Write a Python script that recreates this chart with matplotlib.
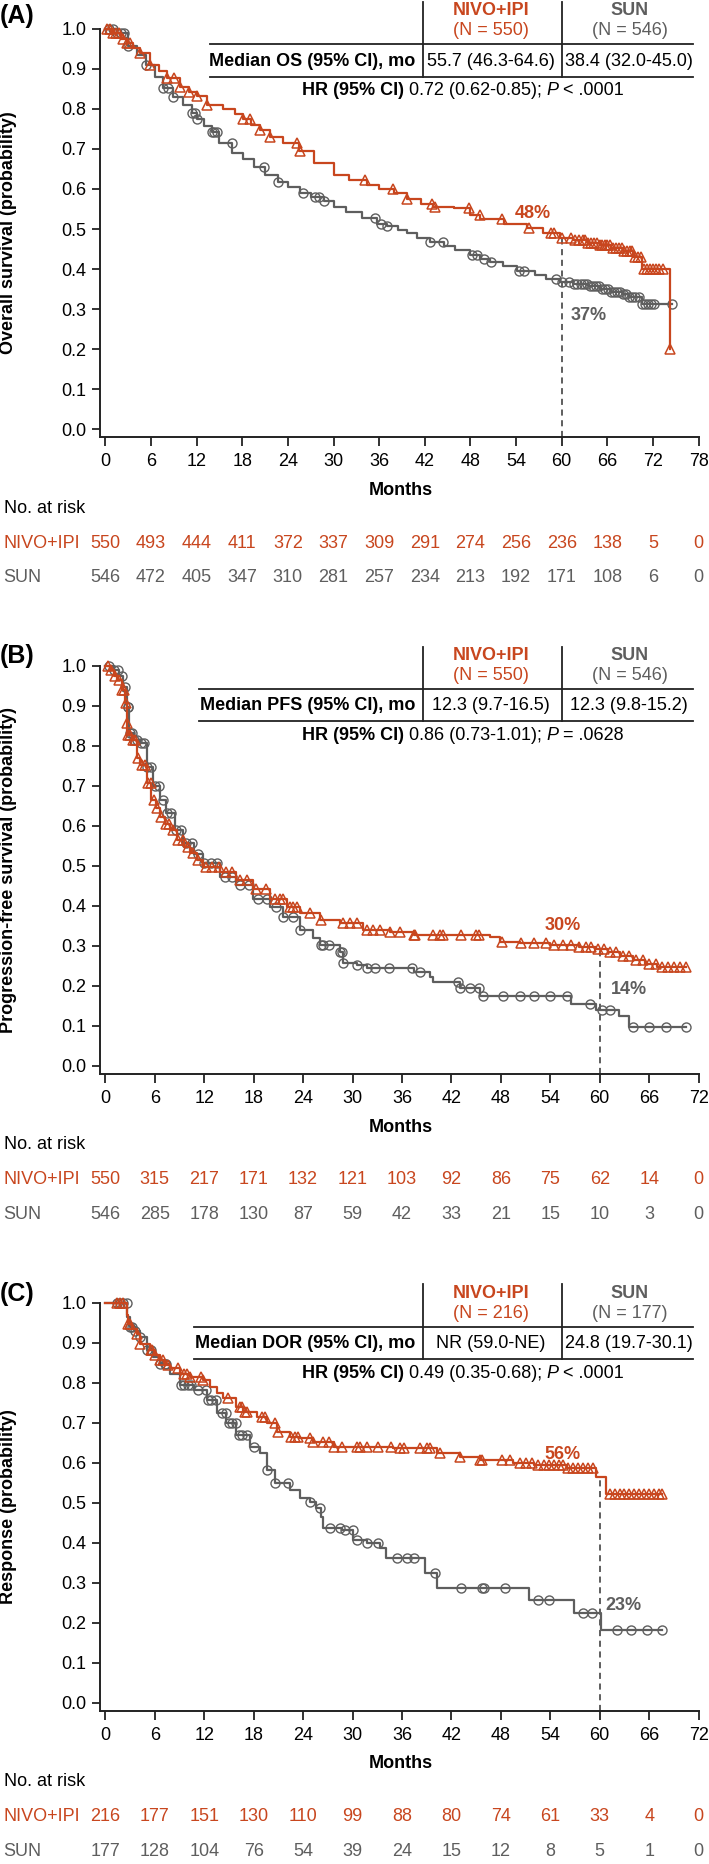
import numpy as np
import matplotlib
matplotlib.use('Agg')
import matplotlib.pyplot as plt
from matplotlib.lines import Line2D
from matplotlib.transforms import blended_transform_factory

plt.rcParams['font.family'] = ['Liberation Sans', 'DejaVu Sans']

RED = '#C8461E'
GRAY = '#5E5E5E'
W, H = 709, 1864

# ---- panel A: overall survival ----
os_nivo_t = [0, 1.0, 2.0, 2.8, 3.7, 4.6, 5.9, 7.0, 8.1, 9.8, 11.0, 12.0, 13.3, 15.5, 17.0, 18.1,
             19.2, 20.3, 21.7, 23.4, 25.4, 27.4, 30.0, 32.0, 34.4, 36.0, 37.9, 39.6, 41.5, 43.1,
             45.8, 48.0, 49.3, 52.4, 55.4, 57.5, 59.8, 61.5, 63.5, 65.0, 66.5, 68.0, 69.4, 70.6, 74.2]
os_nivo_s = [1.0, 0.989, 0.975, 0.964, 0.952, 0.939, 0.91, 0.895, 0.877, 0.856, 0.843, 0.833, 0.81,
             0.80, 0.787, 0.774, 0.761, 0.748, 0.731, 0.714, 0.695, 0.664, 0.635, 0.622, 0.61, 0.600,
             0.589, 0.574, 0.563, 0.556, 0.552, 0.535, 0.525, 0.5125, 0.502, 0.49, 0.477, 0.472,
             0.465, 0.46, 0.452, 0.445, 0.431, 0.40, 0.20]
os_sun_t = [0, 1.5, 3.0, 4.2, 5.4, 6.5, 7.6, 8.9, 10.2, 11.4, 12.0, 13.0, 14.0, 14.9, 16.7, 18.1,
            19.5, 21.0, 22.7, 24.0, 25.6, 27.0, 28.7, 30.0, 31.7, 33.7, 35.7, 37.0, 38.5, 39.6, 41.0,
            42.7, 44.5, 46.0, 48.0, 49.3, 50.6, 52.3, 54.1, 56.5, 58.0, 59.8, 61.5, 63.5, 65.0, 66.5,
            68.0, 68.8, 70.6, 74.5]
os_sun_s = [1.0, 0.989, 0.957, 0.935, 0.91, 0.88, 0.852, 0.831, 0.81, 0.789, 0.774, 0.758, 0.743,
            0.714, 0.691, 0.674, 0.655, 0.635, 0.618, 0.604, 0.589, 0.58, 0.571, 0.556, 0.543, 0.527,
            0.5125, 0.5075, 0.497, 0.489, 0.478, 0.468, 0.458, 0.447, 0.435, 0.426, 0.418, 0.407,
            0.396, 0.385, 0.376, 0.368, 0.362, 0.3575, 0.35, 0.343, 0.337, 0.331, 0.3125, 0.3125]
os_nivo_cens = [0.2, 0.6, 1.0, 1.4, 1.8, 2.3, 2.8, 3.3, 4.6, 5.9, 8.1, 9.0, 9.8, 11.0, 12.0, 13.3,
                18.1, 19.0, 20.3, 21.7, 25.2, 25.6, 34.2, 37.8, 39.6, 43.0, 43.4, 47.8, 49.2, 52.2,
                55.7, 58.6, 59.0, 60.0, 61.2, 61.8, 62.3, 62.8, 63.1, 63.5, 63.9, 64.2, 64.6, 65.0,
                65.3, 65.7, 66.0, 66.4, 66.8, 67.1, 67.5, 67.9, 68.2, 68.6, 69.0, 69.3, 69.7, 70.0,
                70.4, 70.8, 71.2, 71.6, 72.0, 72.4, 72.8, 73.3, 74.2]
os_sun_cens = [0.5, 1.0, 1.5, 2.0, 2.5, 3.0, 5.4, 7.6, 8.2, 8.9, 11.4, 11.8, 12.0, 14.0, 14.3, 14.7,
               16.6, 20.9, 22.7, 26.0, 27.5, 28.1, 28.8, 35.5, 36.3, 37.0, 42.7, 44.4, 48.2, 48.9,
               49.8, 50.7, 54.4, 55.1, 59.3, 60.0, 61.0, 61.6, 62.0, 62.5, 62.9, 63.3, 63.7, 64.1,
               64.5, 64.9, 65.3, 65.7, 66.1, 66.5, 66.9, 67.3, 67.7, 68.1, 68.5, 68.9, 69.3, 69.7,
               70.1, 70.6, 71.0, 71.4, 71.8, 72.2, 74.5]
os_risk_nivo = [550, 493, 444, 411, 372, 337, 309, 291, 274, 256, 236, 138, 5, 0]
os_risk_sun = [546, 472, 405, 347, 310, 281, 257, 234, 213, 192, 171, 108, 6, 0]

# ---- panel B: progression-free survival ----
pfs_nivo_t = [0, 0.56, 1.0, 1.37, 1.98, 2.38, 2.58, 2.66, 3.19, 3.8, 4.2, 5.0, 5.6, 6.1, 6.6, 7.2,
              7.8, 8.65, 9.5, 10.3, 11.1, 11.9, 13.9, 15.9, 17.9, 20.0, 22.0, 23.6, 26.0, 28.5,
              31.3, 34.5, 37.4, 46.7, 47.9, 50.3, 54.0, 57.5, 59.5, 61.0, 62.5, 64.0, 65.5, 67.0, 70.5]
pfs_nivo_s = [1.0, 0.989, 0.975, 0.964, 0.939, 0.906, 0.856, 0.827, 0.814, 0.77, 0.752, 0.706,
              0.664, 0.645, 0.622, 0.605, 0.589, 0.564, 0.547, 0.531, 0.515, 0.498, 0.485, 0.464,
              0.443, 0.418, 0.397, 0.381, 0.364, 0.356, 0.339, 0.335, 0.327, 0.3225, 0.31, 0.3075,
              0.303, 0.298, 0.292, 0.285, 0.275, 0.265, 0.255, 0.248, 0.248]
pfs_sun_t = [0, 1.0, 1.6, 2.2, 2.66, 2.9, 3.5, 4.2, 5.0, 5.8, 6.6, 7.4, 8.4, 9.45, 10.7, 11.9, 13.9,
             15.9, 17.9, 20.0, 21.6, 23.6, 25.2, 26.0, 28.5, 28.9, 30.5, 31.7, 37.4, 39.4, 39.8,
             43.0, 45.5, 56.5, 59.5, 62.3, 63.5, 70.5]
pfs_sun_s = [1.0, 0.99, 0.975, 0.948, 0.898, 0.831, 0.815, 0.806, 0.748, 0.70, 0.664, 0.631, 0.59,
             0.556, 0.53, 0.506, 0.4725, 0.452, 0.418, 0.3975, 0.3725, 0.339, 0.3185, 0.302, 0.285,
             0.256, 0.252, 0.2435, 0.235, 0.2225, 0.21, 0.1935, 0.175, 0.155, 0.14, 0.125, 0.097, 0.097]
pfs_nivo_cens = [0.3, 0.7, 1.2, 1.6, 2.0, 2.3, 2.5, 2.6, 2.7, 3.0, 3.3, 3.6, 4.0, 4.4, 4.8, 5.2,
                 5.5, 5.9, 6.3, 6.8, 7.3, 7.7, 8.2, 8.8, 9.4, 10.0, 10.6, 11.3, 12.2, 13.0, 13.8,
                 14.6, 15.4, 16.3, 17.2, 18.3, 19.5, 20.6, 21.2, 21.6, 22.4, 22.8, 23.2, 24.8, 26.2,
                 28.9, 29.7, 30.5, 31.7, 32.5, 33.3, 34.5, 35.7, 37.4, 37.6, 39.8, 40.6, 41.0, 43.2,
                 45.0, 45.4, 48.1, 50.5, 52.0, 53.5, 54.5, 55.5, 56.5, 57.5, 58.3, 59.0, 59.8, 60.5,
                 61.2, 62.0, 62.8, 63.6, 64.4, 65.2, 66.0, 66.8, 67.5, 68.3, 69.0, 69.8, 70.5]
pfs_sun_cens = [0.5, 1.0, 1.5, 2.0, 2.4, 2.7, 2.8, 3.0, 3.2, 3.5, 3.9, 4.3, 4.7, 5.1, 5.5, 6.0,
                6.5, 7.0, 7.5, 8.0, 8.6, 9.2, 9.8, 10.5, 11.2, 12.0, 12.8, 13.6, 14.5, 15.4, 16.4,
                17.4, 18.5, 19.6, 20.7, 21.6, 22.8, 23.6, 26.2, 26.4, 27.2, 28.5, 28.7, 28.9, 30.5,
                31.7, 32.7, 34.4, 37.2, 38.2, 42.8, 43.0, 44.2, 45.4, 45.8, 48.3, 50.3, 52.0, 54.0,
                56.0, 58.8, 60.3, 61.3, 64.0, 66.0, 68.0, 70.5]
pfs_risk_nivo = [550, 315, 217, 171, 132, 121, 103, 92, 86, 75, 62, 14, 0]
pfs_risk_sun = [546, 285, 178, 130, 87, 59, 42, 33, 21, 15, 10, 3, 0]

# ---- panel C: duration of response ----
dor_nivo_t = [0, 2.6, 2.8, 3.2, 3.8, 4.2, 5.4, 6.0, 6.6, 7.2, 7.8, 9.05, 10.3, 11.9, 12.7, 13.5,
              14.3, 15.9, 16.7, 18.4, 19.6, 20.8, 22.4, 23.6, 25.2, 27.7, 34.9, 40.2, 43.0, 45.5,
              49.5, 52.0, 56.0, 59.5, 60.8, 67.6]
dor_nivo_s = [1.0, 0.969, 0.948, 0.935, 0.923, 0.898, 0.882, 0.87, 0.857, 0.845, 0.836, 0.823,
              0.815, 0.807, 0.79, 0.775, 0.761, 0.74, 0.7275, 0.715, 0.6985, 0.6775, 0.665, 0.661,
              0.6525, 0.64, 0.636, 0.6235, 0.615, 0.607, 0.5985, 0.594, 0.587, 0.565, 0.523, 0.523]
dor_sun_t = [0, 2.66, 3.0, 3.6, 4.2, 5.0, 5.8, 6.6, 7.8, 9.05, 10.7, 12.3, 13.5, 14.7, 15.9, 17.5,
             18.8, 19.6, 20.6, 22.4, 23.6, 24.8, 25.6, 26.2, 26.4, 28.7, 30.1, 31.7, 33.3, 34.1,
             38.8, 40.3, 51.4, 56.9, 60.2, 67.6]
dor_sun_s = [1.0, 0.965, 0.94, 0.93, 0.915, 0.882, 0.865, 0.848, 0.823, 0.794, 0.782, 0.757,
             0.7235, 0.6985, 0.669, 0.64, 0.6235, 0.582, 0.5485, 0.532, 0.512, 0.5025, 0.486,
             0.465, 0.436, 0.432, 0.407, 0.3985, 0.386, 0.361, 0.3235, 0.286, 0.2565, 0.225, 0.182, 0.182]
dor_nivo_cens = [1.4, 1.8, 2.2, 2.8, 3.0, 3.9, 4.2, 5.5, 5.7, 6.0, 6.6, 7.0, 7.6, 8.8, 9.6, 9.9,
                 10.3, 11.6, 11.9, 14.9, 16.3, 16.6, 16.9, 17.2, 19.0, 19.4, 20.6, 21.0, 22.5, 23.0,
                 23.4, 24.8, 25.2, 26.4, 27.1, 27.7, 28.7, 30.5, 30.9, 31.7, 33.1, 34.7, 35.8, 36.2,
                 38.2, 39.0, 39.4, 40.6, 43.0, 45.5, 45.7, 48.1, 49.1, 50.3, 51.0, 51.8, 52.5, 53.2,
                 53.8, 54.4, 55.0, 55.6, 56.2, 56.8, 57.4, 58.0, 58.6, 59.2, 61.2, 61.8, 62.4, 63.0,
                 63.6, 64.2, 64.8, 65.4, 66.0, 66.6, 67.2, 67.6]
dor_sun_cens = [1.4, 1.8, 2.2, 2.6, 3.0, 3.2, 3.6, 4.2, 5.0, 5.5, 6.6, 7.2, 7.4, 9.2, 9.6, 10.0,
                10.4, 11.2, 12.2, 12.5, 12.8, 13.4, 14.2, 14.6, 15.0, 15.4, 15.8, 16.2, 16.6, 17.2,
                18.0, 19.6, 20.6, 22.2, 24.8, 26.0, 27.3, 28.5, 29.1, 30.0, 30.5, 31.7, 33.1, 35.4,
                36.6, 37.4, 40.0, 43.2, 45.7, 45.9, 48.5, 52.5, 53.9, 58.0, 59.1, 62.1, 63.8, 65.7, 67.6]
dor_risk_nivo = [216, 177, 151, 130, 110, 99, 88, 80, 74, 61, 33, 4, 0]
dor_risk_sun = [177, 128, 104, 76, 54, 39, 24, 15, 12, 8, 5, 1, 0]

fig = plt.figure(figsize=(W / 100, H / 100), dpi=100)
renderer = fig.canvas.get_renderer()
FS = 13


def fx(px):
    return px / W


def fy(py):
    return 1 - py / H


def step_value(t, s, x):
    i = np.searchsorted(t, x, side='right') - 1
    return np.asarray(s)[i]


def hline(x1, x2, y):
    fig.add_artist(Line2D([fx(x1), fx(x2)], [fy(y), fy(y)], color='#222222', lw=1.3))


def vline(x, y1, y2):
    fig.add_artist(Line2D([fx(x), fx(x)], [fy(y1), fy(y2)], color='#222222', lw=1.3))


def runs_text(xc, y, runs, gap=4.5):
    # draw pieces with different weight/style, centred on xc (pixels)
    items = []
    total = 0
    for txt, kw in runs:
        t = fig.text(0, fy(y), txt, fontsize=FS, va='center', ha='left', **kw)
        w = t.get_window_extent(renderer).width
        items.append((t, w))
        total += w
    total += gap * (len(items) - 1)
    x = xc - total / 2
    for t, w in items:
        t.set_x(fx(x))
        x += w + gap


def panel(top, letter, let_y, xmax, ylabel, nivo_t, nivo_s, sun_t, sun_s, nivo_c, sun_c,
          risk_n, risk_s, tab_top, tab_left, row_label, nivo_n, sun_n, nivo_med, sun_med, hr_runs,
          pct_n, pct_s):
    ax = fig.add_axes([fx(100.4), fy(top + 408.3), fx(698.6) - fx(100.4), 408.3 / H])
    y0 = -8.3 / 400
    ax.set_xlim(-5 * xmax / 598.2, xmax)
    ax.set_ylim(y0, 1.0)
    for sp in ['top', 'right']:
        ax.spines[sp].set_visible(False)
    for sp in ['left', 'bottom']:
        ax.spines[sp].set_linewidth(1.4)
        ax.spines[sp].set_color('#222222')
    ax.set_xticks(np.arange(0, xmax + 1, 6))
    ax.set_yticks(np.arange(0, 1.01, 0.1))
    ax.set_yticklabels(['%.1f' % v for v in np.arange(0, 1.01, 0.1)])
    ax.tick_params(axis='y', labelsize=FS, length=5.5, width=1.3, pad=4.5, color='#222222')
    ax.tick_params(axis='x', labelsize=FS, length=6.8, width=1.3, pad=4.5, color='#222222')

    ax.step(sun_t, sun_s, where='post', color=GRAY, lw=1.6, zorder=3, clip_on=False)
    ax.plot(sun_c, step_value(sun_t, sun_s, sun_c), ls='none', marker='o', ms=6.5, mfc='none',
            mec=GRAY, mew=1.0, zorder=3, clip_on=False)
    ax.step(nivo_t, nivo_s, where='post', color=RED, lw=1.6, zorder=4, clip_on=False)
    ax.plot(nivo_c, step_value(nivo_t, nivo_s, nivo_c), ls='none', marker='^', ms=6.5, mfc='none',
            mec=RED, mew=1.1, zorder=4, clip_on=False)

    ax.plot([60, 60], [y0, step_value(nivo_t, nivo_s, 60)], ls=(0, (4, 3)), color='#333333',
            lw=1.1, zorder=2)
    ax.text(pct_n[0], pct_n[1], pct_n[2], color=RED, fontsize=FS, fontweight='bold',
            ha='center', va='center')
    ax.text(pct_s[0], pct_s[1], pct_s[2], color=GRAY, fontsize=FS, fontweight='bold',
            ha='center', va='center')

    fig.text(fx(0), fy(let_y), letter, fontsize=18, fontweight='bold', ha='left', va='center')
    fig.text(fx(9), fy(top + 204), ylabel, fontsize=FS, fontweight='bold', rotation=90,
             ha='center', va='center')

    base = top + 408.3
    fig.text(fx(401), fy(base + 53), 'Months', fontsize=FS, fontweight='bold', ha='center', va='center')
    fig.text(fx(3.5), fy(base + 70.7), 'No. at risk', fontsize=FS, ha='left', va='center')
    fig.text(fx(3.5), fy(base + 105.7), 'NIVO+IPI', fontsize=FS, color=RED, ha='left', va='center')
    fig.text(fx(3.5), fy(base + 140.7), 'SUN', fontsize=FS, color=GRAY, ha='left', va='center')
    trans = blended_transform_factory(ax.transData, fig.transFigure)
    ticks = np.arange(0, xmax + 1, 6)
    for x, n in zip(ticks, risk_n):
        ax.text(x, fy(base + 105.7), str(n), transform=trans, fontsize=FS, color=RED,
                ha='center', va='center', clip_on=False)
    for x, n in zip(ticks, risk_s):
        ax.text(x, fy(base + 140.7), str(n), transform=trans, fontsize=FS, color=GRAY,
                ha='center', va='center', clip_on=False)

    # summary table
    T = tab_top
    hline(tab_left, 693, T)
    hline(tab_left, 693, T + 32.5)
    vline(423.5, max(T - 42.5, 0), T + 32.5)
    vline(562, max(T - 42.5, 0), T + 32.5)
    fig.text(fx(491), fy(T - 33.5), 'NIVO+IPI', fontsize=FS, fontweight='bold', color=RED,
             ha='center', va='center')
    fig.text(fx(491), fy(T - 13.5), nivo_n, fontsize=FS, color=RED, ha='center', va='center')
    fig.text(fx(630), fy(T - 33.5), 'SUN', fontsize=FS, fontweight='bold', color=GRAY,
             ha='center', va='center')
    fig.text(fx(630), fy(T - 13.5), sun_n, fontsize=FS, color=GRAY, ha='center', va='center')
    fig.text(fx(415), fy(T + 17), row_label, fontsize=FS, fontweight='bold', ha='right', va='center')
    fig.text(fx(491), fy(T + 17), nivo_med, fontsize=FS, ha='center', va='center')
    fig.text(fx(629), fy(T + 17), sun_med, fontsize=FS, ha='center', va='center')
    runs_text(463, T + 46.5, hr_runs)
    return ax


B = {'fontweight': 'bold'}
N = {}
I = {'fontstyle': 'italic'}

panel(29, '(A)', 15.8, 78, 'Overall survival (probability)',
      os_nivo_t, os_nivo_s, os_sun_t, os_sun_s, os_nivo_cens, os_sun_cens,
      os_risk_nivo, os_risk_sun, 44.3, 210, 'Median OS (95% CI), mo', '(N = 550)', '(N = 546)',
      '55.7 (46.3-64.6)', '38.4 (32.0-45.0)',
      [('HR (95% CI)', B), ('0.72 (0.62-0.85);', N), ('P', I), ('< .0001', N)],
      (56.2, 0.54, '48%'), (63.6, 0.285, '37%'))

panel(665.7, '(B)', 656, 72, 'Progression-free survival (probability)',
      pfs_nivo_t, pfs_nivo_s, pfs_sun_t, pfs_sun_s, pfs_nivo_cens, pfs_sun_cens,
      pfs_risk_nivo, pfs_risk_sun, 689, 199, 'Median PFS (95% CI), mo', '(N = 550)', '(N = 546)',
      '12.3 (9.7-16.5)', '12.3 (9.8-15.2)',
      [('HR (95% CI)', B), ('0.86 (0.73-1.01);', N), ('P', I), ('= .0628', N)],
      (55.5, 0.35, '30%'), (63.5, 0.19, '14%'))

panel(1302.7, '(C)', 1294, 72, 'Response (probability)',
      dor_nivo_t, dor_nivo_s, dor_sun_t, dor_sun_s, dor_nivo_cens, dor_sun_cens,
      dor_risk_nivo, dor_risk_sun, 1326.7, 193.5, 'Median DOR (95% CI), mo', '(N = 216)', '(N = 177)',
      'NR (59.0-NE)', '24.8 (19.7-30.1)',
      [('HR (95% CI)', B), ('0.49 (0.35-0.68);', N), ('P', I), ('< .0001', N)],
      (55.5, 0.62, '56%'), (62.9, 0.244, '23%'))

fig.savefig('out.png', dpi=100)
